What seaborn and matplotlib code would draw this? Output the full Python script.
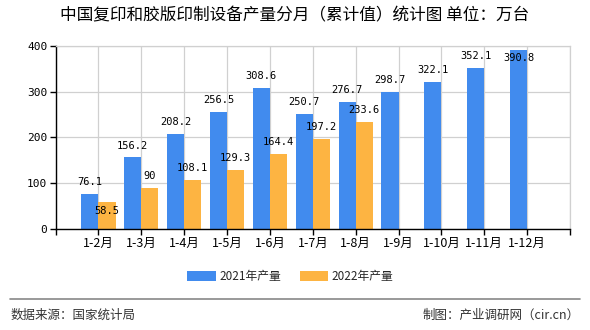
import matplotlib
matplotlib.use("Agg")
import matplotlib.pyplot as plt
import seaborn as sns
import pandas as pd
import numpy as np

months = ["1-2月", "1-3月", "1-4月", "1-5月", "1-6月", "1-7月", "1-8月",
          "1-9月", "1-10月", "1-11月", "1-12月"]
vals_2021 = [76.1, 156.2, 208.2, 256.5, 308.6, 250.7, 276.7, 298.7, 322.1, 352.1, 390.8]
vals_2022 = [58.5, 90, 108.1, 129.3, 164.4, 197.2, 233.6]
series_names = ["2021年产量", "2022年产量"]
yticks = [0, 100, 200, 300, 400]
title = "中国复印和胶版印制设备产量分月（累计值）统计图 单位：万台"
source_text = "数据来源：国家统计局"
credit_text = "制图：产业调研网（cir.cn）"

blue = "#418BEE"
orange = "#FDB442"

rows = []
for m, v in zip(months, vals_2021):
    rows.append({"month": m, "value": v, "series": series_names[0]})
for m, v in zip(months, vals_2022):
    rows.append({"month": m, "value": v, "series": series_names[1]})
df = pd.DataFrame(rows)

sns.set_style("white")
cjk = ["Noto Sans CJK SC", "DejaVu Sans"]
plt.rcParams["font.family"] = cjk

fig = plt.figure(figsize=(5.9, 3.3), dpi=100)
ax = fig.add_axes([0.0942, 0.306, 0.872, 0.555])

sns.barplot(data=df, x="month", y="value", hue="series", order=months,
            hue_order=series_names, palette=[blue, orange], width=0.8,
            saturation=1, ax=ax, errorbar=None, linewidth=0, edgecolor="none")

ax.set_xlim(-1, len(months))
ax.set_ylim(0, 400)
ax.set_yticks(yticks)
ax.set_yticklabels([str(t) for t in yticks], fontsize=8, family="DejaVu Sans Mono")
ax.set_xticks(range(-1, len(months) + 1))
ax.set_xticklabels([""] + months + [""], fontsize=9)
ax.set_xlabel("")
ax.set_ylabel("")
ax.grid(True, color="#d0d0d0", linewidth=0.9)
ax.set_axisbelow(True)
for s in ["top", "right"]:
    ax.spines[s].set_color("#d0d0d0")
    ax.spines[s].set_linewidth(0.9)
for s in ["left", "bottom"]:
    ax.spines[s].set_color("black")
    ax.spines[s].set_linewidth(1.0)
ax.tick_params(axis="both", which="both", direction="out", length=4, width=1,
               color="black", pad=2, bottom=True, left=True, labelcolor="black")

# value labels
data_lists = [vals_2021, vals_2022]
label_off = 26  # data units above bar top
for ci, cont in enumerate(ax.containers):
    vals = data_lists[ci]
    bars = [b for b in cont if not np.isnan(b.get_height())]
    for i, (b, v) in enumerate(zip(bars, vals)):
        x = b.get_x() + b.get_width() / 2
        below = False
        if v + label_off + 10 > 400:
            below = True
        if ci == 1 and abs(vals_2021[i] - v) < 20:
            below = True
        dy = -6 if below else 8.6
        ax.annotate(f"{v:g}", xy=(x, v), xytext=(0, dy), textcoords="offset points",
                    ha="center", va="center", fontsize=7.5,
                    family="DejaVu Sans Mono", color="black", annotation_clip=False)

sns.move_legend(ax, "center", bbox_to_anchor=(0.492, 0.161),
                bbox_transform=fig.transFigure, ncol=2, frameon=False, title=None,
                fontsize=8.5, handlelength=2.4, handleheight=0.9,
                columnspacing=1.6, handletextpad=0.3)

fig.text(0.5, 0.951, title, ha="center", va="center", fontsize=12, color="black")
fig.add_artist(plt.Line2D([0.017, 0.983], [0.094, 0.094], transform=fig.transFigure,
                          color="#888888", linewidth=1.2))
fig.text(0.017, 0.045, source_text, ha="left", va="center", fontsize=9, color="#333333")
fig.text(0.983, 0.045, credit_text, ha="right", va="center", fontsize=9, color="#333333")

fig.savefig("out.png", dpi=100)
